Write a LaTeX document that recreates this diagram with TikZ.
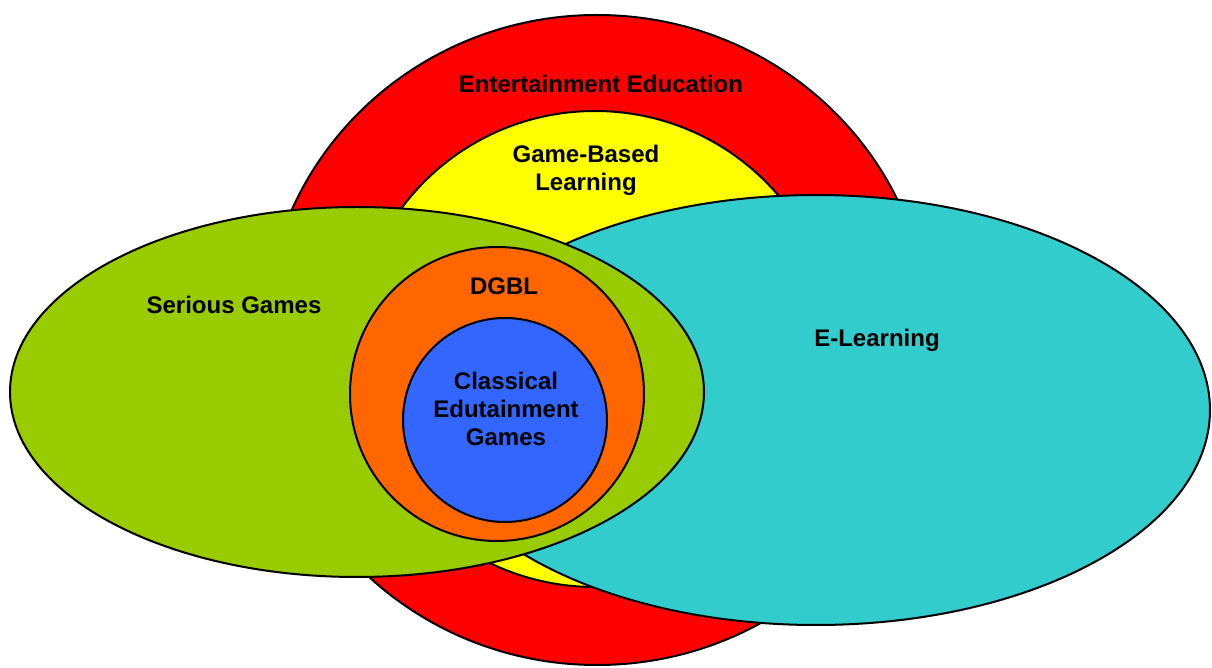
\documentclass[tikz,border=0pt]{standalone}
\usepackage{fontspec}
\setmainfont{Liberation Sans}
\usepackage{xcolor}
\definecolor{eeRed}{HTML}{FF0000}
\definecolor{gblYellow}{HTML}{FFFF00}
\definecolor{elCyan}{HTML}{33CCCC}
\definecolor{sgGreen}{HTML}{99CC00}
\definecolor{dgblOrange}{HTML}{FF6600}
\definecolor{cegBlue}{HTML}{3366FF}
\usetikzlibrary{positioning}

\begin{document}
\begin{tikzpicture}[x=0.5pt,y=-0.5pt,
    set/.style={draw=black,line width=1pt},
    lbl/.style={font=\bfseries\fontsize{12}{14}\selectfont,align=center,inner sep=0pt}]
    \useasboundingbox (0,0) rectangle (1212,668);
    % sets, back to front
    \foreach \cx/\cy/\rx/\ry/\col in {597/340/333/325/eeRed,595/349/240/238/gblYellow,816/410/394/215/elCyan,357/392/347/185/sgGreen,497/394/147/147/dgblOrange,505/420/102/102/cegBlue}
    \filldraw[set,fill=\col](\cx,\cy) ellipse [x radius=\rx,y radius=\ry];
    % labels
    \node[lbl] (ee) at (601,84) {Entertainment Education};
    \node[lbl] (gbl) at (586,170) {Game-Based\\Learning};
    \node[lbl] (sg) at (234,305) {Serious Games};
    \node[lbl] (el) at (877,340) {E-Learning};
    \node[lbl] (dgbl) at (504,286) {DGBL};
    \node[lbl] (ceg) at (506,409) {Classical\\Edutainment\\Games};
\end{tikzpicture}
\end{document}
